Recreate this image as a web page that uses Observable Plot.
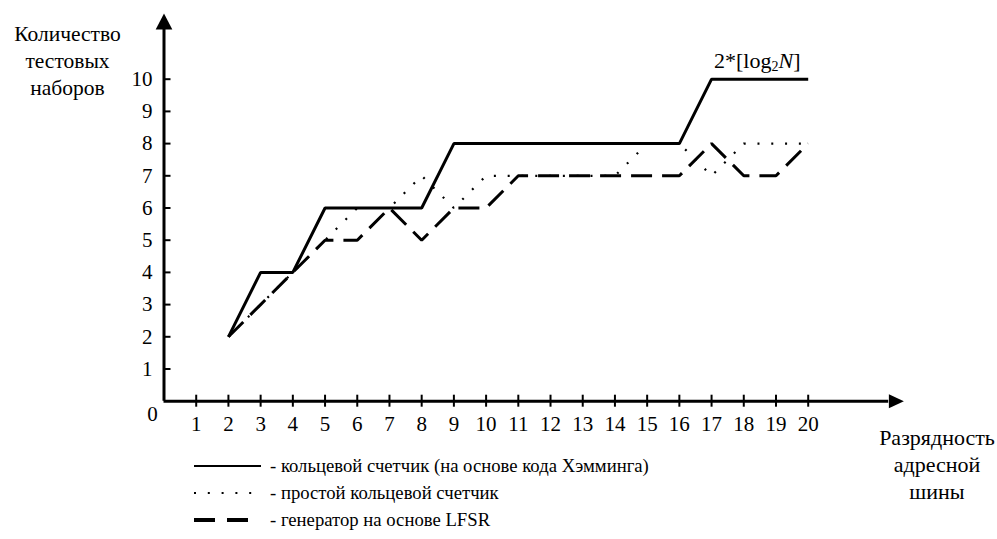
<!DOCTYPE html>
<html>
<head>
<meta charset="utf-8">
<script src="https://cdn.jsdelivr.net/npm/d3@7"></script>
<script src="https://cdn.jsdelivr.net/npm/@observablehq/plot@0.6"></script>
<style>
  html, body { margin: 0; padding: 0; background: #fff; }
  #wrap { position: relative; width: 997px; height: 539px; font-family: "Liberation Serif", "Times New Roman", serif; color: #000; overflow: hidden; }
  .abs { position: absolute; white-space: nowrap; line-height: 27px; }
  .title { text-align: center; }
  .row { position: absolute; left: 194px; height: 24px; display: flex; align-items: center; font-size: 18.7px; white-space: nowrap; }
  .row svg { width: 76px; height: 24px; flex: none; }
</style>
</head>
<body>
<div id="wrap"></div>
<script>
// ---- data ----
const bits = [2, 3, 4, 5, 6, 7, 8, 9, 10, 11, 12, 13, 14, 15, 16, 17, 18, 19, 20];
const hamming = [2, 4, 4, 6, 6, 6, 6, 8, 8, 8, 8, 8, 8, 8, 8, 10, 10, 10, 10];
const simpleRing = [2, 3, 4, 5, 6, 6, 7, 6, 7, 7, 7, 7, 7, 8, 8, 7, 8, 8, 8];
const lfsr = [2, 3, 4, 5, 5, 6, 5, 6, 6, 7, 7, 7, 7, 7, 7, 8, 7, 7, 8];
const xTicks = [1, 2, 3, 4, 5, 6, 7, 8, 9, 10, 11, 12, 13, 14, 15, 16, 17, 18, 19, 20];
const yTicks = [1, 2, 3, 4, 5, 6, 7, 8, 9, 10];
const seriesNames = [
  "- кольцевой счетчик (на основе кода Хэмминга)",
  "- простой кольцевой счетчик",
  "- генератор на основе LFSR"
];
const yTitle = ["Количество", "тестовых", "наборов"];
const xTitle = ["Разрядность", "адресной", "шины"];
const xAxisEnd = 22.5, xAxisTip = 22.97;
const yAxisEnd = 11.55, yAxisTip = 12.04;

const toRows = (vals) => bits.map((b, i) => ({x: b, y: vals[i]}));

// custom arrowhead symbols (tip at the anchor point)
const arrowRight = {draw(ctx, size) { const r = Math.sqrt(size / Math.PI); ctx.moveTo(0, 0); ctx.lineTo(-r, -r * 0.47); ctx.lineTo(-r, r * 0.47); ctx.closePath(); }};
const arrowUp = {draw(ctx, size) { const r = Math.sqrt(size / Math.PI); ctx.moveTo(0, 0); ctx.lineTo(-r * 0.52, r); ctx.lineTo(r * 0.52, r); ctx.closePath(); }};

const font = "Liberation Serif, Times New Roman, serif";

const plot = Plot.plot({
  width: 997,
  height: 539,
  marginLeft: 163.5,
  marginRight: 189.3,
  marginTop: 78.7,
  marginBottom: 138.3,
  x: {domain: [0, 20], axis: null},
  y: {domain: [0, 10], axis: null},
  style: {fontFamily: font, background: "white", color: "black", overflow: "visible"},
  marks: [
    // axes lines
    Plot.ruleY([0], {x1: 0, x2: xAxisEnd, strokeWidth: 3, stroke: "black"}),
    Plot.ruleX([0], {y1: 0, y2: yAxisEnd, strokeWidth: 3, stroke: "black"}),
    Plot.dot([{x: xAxisTip, y: 0}], {x: "x", y: "y", symbol: arrowRight, r: 15, fill: "black", stroke: null}),
    Plot.dot([{x: 0, y: yAxisTip}], {x: "x", y: "y", symbol: arrowUp, r: 16, fill: "black", stroke: null}),
    // ticks
    Plot.axisX({ticks: xTicks, tickSize: 12, dy: -6, tickFormat: () => "", label: null, strokeWidth: 2}),
    Plot.axisY({ticks: yTicks, tickSize: 7, dx: 7, tickFormat: () => "", label: null, strokeWidth: 2}),
    // tick labels
    Plot.text(xTicks, {x: d => d, y: 0, text: d => String(d), dy: 23.5, fontSize: 21, fontFamily: font, fill: "black"}),
    Plot.text(yTicks, {x: 0, y: d => d, text: d => String(d), dx: -11.5, textAnchor: "end", fontSize: 21, fontFamily: font, fill: "black"}),
    Plot.text([0], {x: 0, y: 0, text: d => String(d), dx: -11.5, dy: 13, fontSize: 21, fontFamily: font, fill: "black"}),
    // series
    Plot.line(toRows(simpleRing), {x: "x", y: "y", stroke: "black", strokeWidth: 2.2, strokeDasharray: "2 11.8", strokeLinecap: "butt", strokeLinejoin: "miter"}),
    Plot.line(toRows(lfsr), {x: "x", y: "y", stroke: "black", strokeWidth: 3, strokeDasharray: "21 10", strokeLinecap: "butt", strokeLinejoin: "miter"}),
    Plot.line(toRows(hamming), {x: "x", y: "y", stroke: "black", strokeWidth: 3, strokeLinecap: "butt", strokeLinejoin: "miter"})
  ]
});

const wrap = document.getElementById("wrap");
wrap.appendChild(plot);

// titles
const yt = document.createElement("div");
yt.className = "abs title";
yt.style.left = "0px"; yt.style.width = "135px"; yt.style.top = "21px"; yt.style.fontSize = "21.5px";
yt.innerHTML = yTitle.join("<br>");
wrap.appendChild(yt);

const xt = document.createElement("div");
xt.className = "abs title";
xt.style.left = "877px"; xt.style.width = "120px"; xt.style.top = "424px"; xt.style.fontSize = "22px";
xt.innerHTML = xTitle.join("<br>");
wrap.appendChild(xt);

// annotation
const ann = document.createElement("div");
ann.className = "abs";
ann.style.left = "714px"; ann.style.top = "47px"; ann.style.fontSize = "22px";
ann.innerHTML = '2*[log<sub style="font-size:14px;line-height:0;vertical-align:-3px">2</sub><i>N</i>]';
wrap.appendChild(ann);

// legend
const samples = [
  '<svg viewBox="0 0 76 24"><line x1="0" x2="67" y1="12" y2="12" stroke="black" stroke-width="2"/></svg>',
  '<svg viewBox="0 0 76 24"><line x1="0" x2="60" y1="12" y2="12" stroke="black" stroke-width="2.2" stroke-dasharray="2 11.8"/></svg>',
  '<svg viewBox="0 0 76 24"><line x1="0" x2="55" y1="12" y2="12" stroke="black" stroke-width="4" stroke-dasharray="21 12"/></svg>'
];
const rowY = [466, 493, 520];
seriesNames.forEach((name, i) => {
  const r = document.createElement("div");
  r.className = "row";
  r.style.top = (rowY[i] - 12) + "px";
  r.innerHTML = samples[i] + "<span>" + name + "</span>";
  wrap.appendChild(r);
});
</script>
</body>
</html>
